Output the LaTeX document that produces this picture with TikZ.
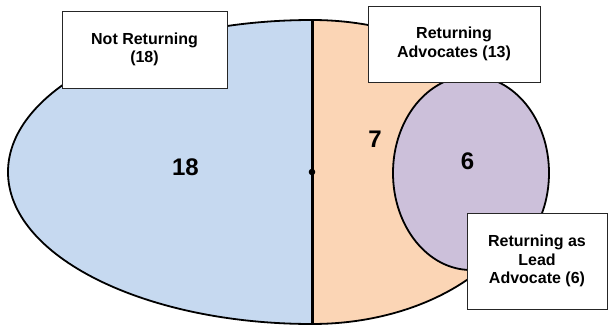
\documentclass[tikz,border=0pt]{standalone}
\usepackage{fontspec}
\setmainfont{Liberation Sans}
\definecolor{notret}{HTML}{C6D9F0}
\definecolor{ret}{HTML}{FBD5B5}
\definecolor{lead}{HTML}{CCC0DA}
\begin{document}
\begin{tikzpicture}[
  outline/.style={draw=black, line width=1.8pt},
  labelbox/.style={draw=black!85, line width=0.9pt, fill=white, align=center, inner sep=0pt,
    font=\fontsize{16}{18.5}\selectfont\bfseries},
  bignum/.style={inner sep=0pt, font=\fontsize{24}{26}\selectfont\bfseries}
]
\useasboundingbox (0pt,0pt) rectangle (608pt,325pt);
\coordinate (top) at (312pt,305pt);
\coordinate (bot) at (312pt,1pt);
\coordinate (mid) at (312pt,153pt);
% left half (not returning)
\filldraw[fill=notret, outline] (top) arc[start angle=90, end angle=270, x radius=304pt, y radius=152pt] -- cycle;
% right half (returning)
\filldraw[fill=ret, outline] (bot) arc[start angle=-90, end angle=90, x radius=220pt, y radius=152pt] -- cycle;
% lead advocates
\filldraw[fill=lead, outline] (471pt,152pt) ellipse[x radius=78pt, y radius=97pt];
% divider
\draw[line width=3pt] (top) -- (bot);
\fill (mid) circle[radius=3.3pt];
% numbers
\node[bignum] (n18) at (185.5pt,157.5pt) {18};
\node[bignum] (n7) at (375pt,186pt) {7};
\node[bignum] (n6) at (467.5pt,163.5pt) {6};
% label boxes
\node[labelbox, minimum width=165pt, minimum height=77pt] (b1) at (144.5pt,275.5pt) {Not Returning\\(18)};
\node[labelbox, minimum width=172pt, minimum height=76pt] (b2) at (454pt,281pt) {Returning\\Advocates (13)};
\node[labelbox, minimum width=140pt, minimum height=96pt] (b3) at (537pt,64pt) {Returning as\\Lead\\Advocate (6)};
\end{tikzpicture}
\end{document}
